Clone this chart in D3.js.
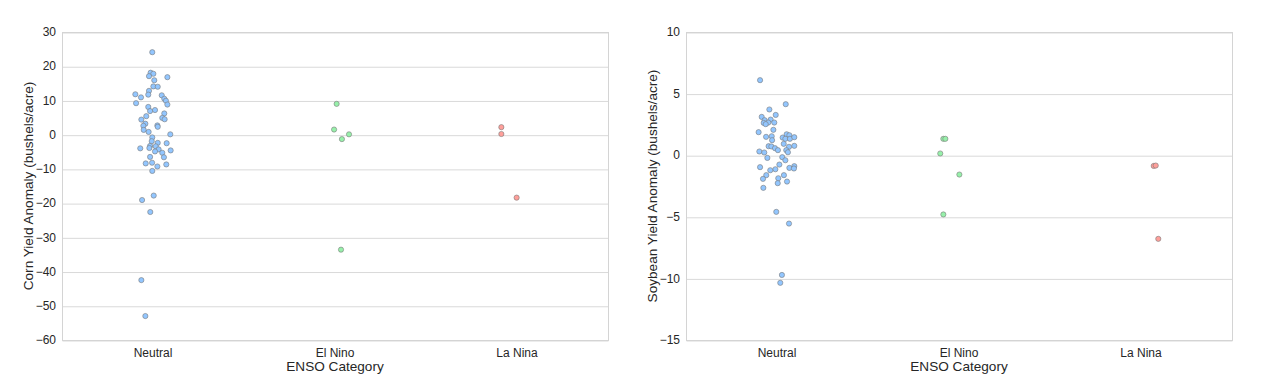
<!DOCTYPE html>
<html>
<head>
<meta charset="utf-8">
<script src="https://cdn.jsdelivr.net/npm/d3@7"></script>
<style>
  body { margin: 0; background: #fff; }
  svg { display: block; font-family: "Liberation Sans", Arial, sans-serif; }
  .grid line { stroke: #d9d9d9; stroke-width: 1; }
  .grid .domain { display: none; }
  .frame { fill: none; stroke: #d4d4d4; stroke-width: 1; }
  .tick-label { font-size: 12px; fill: #262626; }
  .axis-title { font-size: 13.6px; fill: #262626; }
  .dot { stroke: #7a7a7a; stroke-width: 0.6; }
</style>
</head>
<body>
<svg id="chart" width="1274" height="386"></svg>
<script>
"use strict";

const categories = ["Neutral", "El Nino", "La Nina"];
const colors = ["#92c6ff", "#97f0aa", "#ff9f9a"];

const cornTicks = [30, 20, 10, 0, -10, -20, -30, -40, -50, -60];
const soyTicks = [10, 5, 0, -5, -10, -15];

// corn yield anomaly (bushels/acre)
const cornNeutral = [
  24.1, 18.1, 17.8, 17.1, 16.8, 15.9, 14.1, 14.0, 12.8, 11.7,
  11.8, 10.9, 11.5, 10.5, 9.9, 9.2, 8.8, 8.1, 6.9, 7.2,
  6.2, 5.4, 4.9, 4.5, 4.4, 3.2, 2.6, 2.7, 2.3, 1.4,
  0.8, 0.1, -0.8, -1.9, -2.4, -2.5, -3.3, -3.4, -4.0, -3.9,
  -4.3, -4.9, -5.3, -4.6, -6.6, -6.5, -8.4, -8.2, -8.7, -9.3,
  -10.6, -17.8, -19.1, -22.6, -42.5, -53.0
];
// horizontal jitter of each point, in category units
const cornNeutralJitter = [
  -0.004, -0.013, 0.002, -0.022, 0.079, 0.007, 0.002, 0.026, -0.022, -0.026,
  -0.097, -0.066, 0.048, 0.062, 0.071, -0.093, 0.079, -0.026, -0.016, 0.011,
  0.062, -0.037, 0.051, 0.064, -0.064, -0.042, -0.053, 0.024, 0.026, -0.051,
  -0.024, 0.095, -0.004, -0.007, 0.026, 0.075, -0.016, 0.015, -0.070, -0.020,
  0.031, 0.011, 0.051, 0.097, 0.060, -0.016, -0.040, -0.005, 0.073, 0.024,
  -0.004, 0.004, -0.060, -0.015, -0.064, -0.042
];
const cornElNino = [9.0, 1.5, 0.1, -1.3, -33.6];
const cornElNinoJitter = [0.009, -0.005, 0.077, 0.038, 0.033];
const cornLaNina = [2.2, 0.2, -18.4];
const cornLaNinaJitter = [-0.086, -0.086, -0.002];

// soybean yield anomaly (bushels/acre)
const soyNeutral = [
  6.09, 4.14, 3.71, 3.27, 3.11, 2.84, 2.89, 2.65, 2.65, 2.62,
  2.52, 2.06, 1.87, 1.49, 1.54, 1.22, 1.70, 1.43, 1.62, 1.33,
  1.33, 1.46, 0.92, 0.68, 0.76, 0.41, 0.73, 0.71, 0.57, 0.41,
  0.30, 0.22, 0.24, -0.22, -0.16, -0.41, -0.97, -1.03, -0.89, -1.08,
  -0.76, -1.14, -1.22, -1.62, -1.62, -1.92, -1.87, -2.14, -2.27, -2.65,
  -4.60, -5.55, -9.72, -10.36
];
const soyNeutralJitter = [
  -0.093, 0.048, -0.042, -0.007, -0.084, -0.068, -0.035, -0.048, -0.015, -0.073,
  -0.062, -0.020, -0.101, -0.060, -0.029, -0.027, 0.053, 0.031, 0.068, 0.046,
  0.071, 0.095, 0.037, 0.066, 0.095, 0.051, -0.046, -0.031, -0.011, 0.005,
  -0.097, -0.070, 0.060, -0.053, 0.029, 0.046, -0.093, 0.068, 0.095, 0.093,
  0.013, -0.009, -0.037, -0.059, 0.038, -0.077, 0.007, 0.055, 0.004, -0.075,
  -0.004, 0.066, 0.027, 0.018
];
const soyElNino = [1.33, 1.33, 0.14, -1.57, -4.81];
const soyElNinoJitter = [-0.086, -0.075, -0.103, 0.002, -0.086];
const soyLaNina = [-0.87, -0.84, -6.79];
const soyLaNinaJitter = [0.070, 0.081, 0.095];

const svg = d3.select("#chart");

function toPoints(groups) {
  // groups: [[values, jitter], ...] in category order
  return groups.flatMap(([values, jitter], i) =>
    values.map((v, j) => ({ cat: i, x: i + jitter[j], y: v }))
  );
}

function drawPanel(arg = {}) {
  const { left, width, top, height, domain, ticks, points, yTitle } = arg;

  const g = svg.append("g").attr("transform", `translate(${left}, ${top})`);

  const x = d3.scaleLinear().domain([-0.5, categories.length - 0.5]).range([0, width]);
  const y = d3.scaleLinear().domain(domain).range([height, 0]);

  g.append("g")
    .attr("class", "grid")
    .call(d3.axisLeft(y).tickValues(ticks).tickSize(-width).tickFormat(""))
    .call((s) => s.selectAll(".tick line").attr("transform", "translate(0.5, 0.5)"));

  g.append("rect")
    .attr("class", "frame")
    .attr("x", 0.5)
    .attr("y", 0.5)
    .attr("width", width)
    .attr("height", height);

  g.selectAll(".y-label")
    .data(ticks)
    .join("text")
    .attr("class", "tick-label y-label")
    .attr("x", -6)
    .attr("y", (d) => y(d))
    .attr("dy", "0.35em")
    .attr("text-anchor", "end")
    .text((d) => (d < 0 ? "\u2212" + Math.abs(d) : d));

  g.selectAll(".x-label")
    .data(categories)
    .join("text")
    .attr("class", "tick-label x-label")
    .attr("x", (d, i) => x(i))
    .attr("y", height + 17)
    .attr("text-anchor", "middle")
    .text((d) => d);

  g.append("text")
    .attr("class", "axis-title")
    .attr("x", width / 2)
    .attr("y", height + 31)
    .attr("text-anchor", "middle")
    .text("ENSO Category");

  g.append("text")
    .attr("class", "axis-title")
    .attr("transform", `translate(-29, ${height / 2}) rotate(-90)`)
    .attr("text-anchor", "middle")
    .text(yTitle);

  g.selectAll(".dot")
    .data(points)
    .join("circle")
    .attr("class", "dot")
    .attr("cx", (d) => x(d.x))
    .attr("cy", (d) => y(d.y))
    .attr("r", 2.6)
    .attr("fill", (d) => colors[d.cat]);
}

drawPanel({
  left: 62,
  width: 546,
  top: 32,
  height: 308,
  domain: [-60, 30],
  ticks: cornTicks,
  points: toPoints([
    [cornNeutral, cornNeutralJitter],
    [cornElNino, cornElNinoJitter],
    [cornLaNina, cornLaNinaJitter],
  ]),
  yTitle: "Corn Yield Anomaly (bushels/acre)",
});

drawPanel({
  left: 686,
  width: 546,
  top: 32,
  height: 308,
  domain: [-15, 10],
  ticks: soyTicks,
  points: toPoints([
    [soyNeutral, soyNeutralJitter],
    [soyElNino, soyElNinoJitter],
    [soyLaNina, soyLaNinaJitter],
  ]),
  yTitle: "Soybean Yield Anomaly (bushels/acre)",
});
</script>
</body>
</html>
